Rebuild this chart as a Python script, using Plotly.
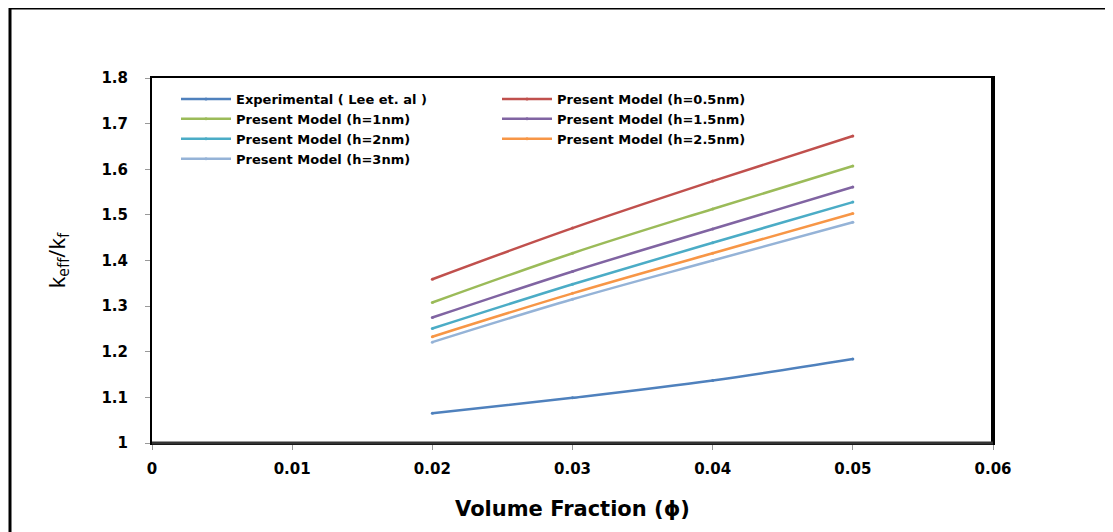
import plotly.graph_objects as go

phi = [0.02, 0.03, 0.04, 0.05]
names = [
    "Experimental ( Lee et. al )",
    "Present Model (h=0.5nm)",
    "Present Model (h=1nm)",
    "Present Model (h=1.5nm)",
    "Present Model (h=2nm)",
    "Present Model (h=2.5nm)",
    "Present Model (h=3nm)",
]
experimental = [1.065, 1.099, 1.137, 1.184]
h05 = [1.359, 1.471, 1.574, 1.673]
h1 = [1.308, 1.416, 1.513, 1.607]
h15 = [1.275, 1.376, 1.469, 1.561]
h2 = [1.251, 1.348, 1.439, 1.528]
h25 = [1.233, 1.328, 1.416, 1.503]
h3 = [1.221, 1.315, 1.400, 1.484]
series = [experimental, h05, h1, h15, h2, h25, h3]
colors = ["#4F81BD", "#C0504D", "#9BBB59", "#8064A2", "#4BACC6", "#F79646", "#95B3D7"]

x_ticks = [0, 0.01, 0.02, 0.03, 0.04, 0.05, 0.06]
x_ticktext = ["0", "0.01", "0.02", "0.03", "0.04", "0.05", "0.06"]
y_ticks = [1, 1.1, 1.2, 1.3, 1.4, 1.5, 1.6, 1.7, 1.8]
y_ticktext = ["1", "1.1", "1.2", "1.3", "1.4", "1.5", "1.6", "1.7", "1.8"]

fig = go.Figure()
for n, ys, c in zip(names, series, colors):
    fig.add_trace(go.Scatter(
        x=phi, y=ys, name=n, mode="lines+markers",
        line=dict(color=c, width=2.5, shape="spline"),
        marker=dict(color=c, size=3),
    ))

# page body has an 8px default margin; work in figure coordinates
OFF = 8
W, H = 1113 - OFF, 532 - OFF
L, R, T, B = 152 - OFF, 120, 78 - OFF, 89
pw, ph = W - L - R, H - T - B

def px(xp):
    return (xp - OFF - L) / pw

def py(yp):
    return (H - B - (yp - OFF)) / ph

shapes = [
    dict(type="path", xref="paper", yref="paper",
         path=f"M {px(10)} {py(545)} L {px(10)} {py(8)} L {px(1130)} {py(8)}",
         line=dict(color="black", width=3)),
    dict(type="line", xref="paper", yref="paper", x0=1, x1=1, y0=0, y1=1,
         line=dict(color="black", width=4)),
    dict(type="line", xref="paper", yref="paper", x0=0, x1=1, y0=0, y1=0,
         line=dict(color="#333333", width=3)),
]

fig.update_layout(
    width=W, height=H,
    margin=dict(l=L, r=R, t=T, b=B),
    paper_bgcolor="white", plot_bgcolor="white",
    shapes=shapes,
    showlegend=True,
    legend=dict(
        orientation="h", x=px(176), y=py(84), xanchor="left", yanchor="top",
        entrywidth=256, entrywidthmode="pixels", tracegroupgap=0,
        font=dict(family="DejaVu Sans, Verdana, sans-serif", size=13, color="black", weight="bold"),
        bgcolor="rgba(0,0,0,0)", itemwidth=50,
    ),
    xaxis=dict(
        range=[0, 0.06], tickvals=x_ticks, ticktext=x_ticktext,
        showgrid=False, zeroline=False, showline=True, linecolor="black", linewidth=2,
        mirror=True, ticks="outside", ticklen=5, tickcolor="#999999",
        ticklabelstandoff=6,
        tickfont=dict(family="DejaVu Sans, Verdana, sans-serif", size=15, color="black", weight="bold"),
        title=dict(text="Volume Fraction (ϕ)", standoff=24,
                   font=dict(family="DejaVu Sans, Verdana, sans-serif", size=21, color="black", weight="bold")),
    ),
    yaxis=dict(
        range=[1, 1.8], tickvals=y_ticks, ticktext=y_ticktext,
        showgrid=False, zeroline=False, showline=True, linecolor="black", linewidth=2,
        mirror=True, ticks="outside", ticklen=5, tickcolor="#999999",
        ticklabelstandoff=14,
        tickfont=dict(family="DejaVu Sans, Verdana, sans-serif", size=15, color="black", weight="bold"),
        title=dict(text="k<sub>eff</sub>/k<sub>f</sub>", standoff=30,
                   font=dict(family="Open Sans, Liberation Sans, sans-serif", size=22, color="black")),
    ),
)

fig.write_html("out.html")
